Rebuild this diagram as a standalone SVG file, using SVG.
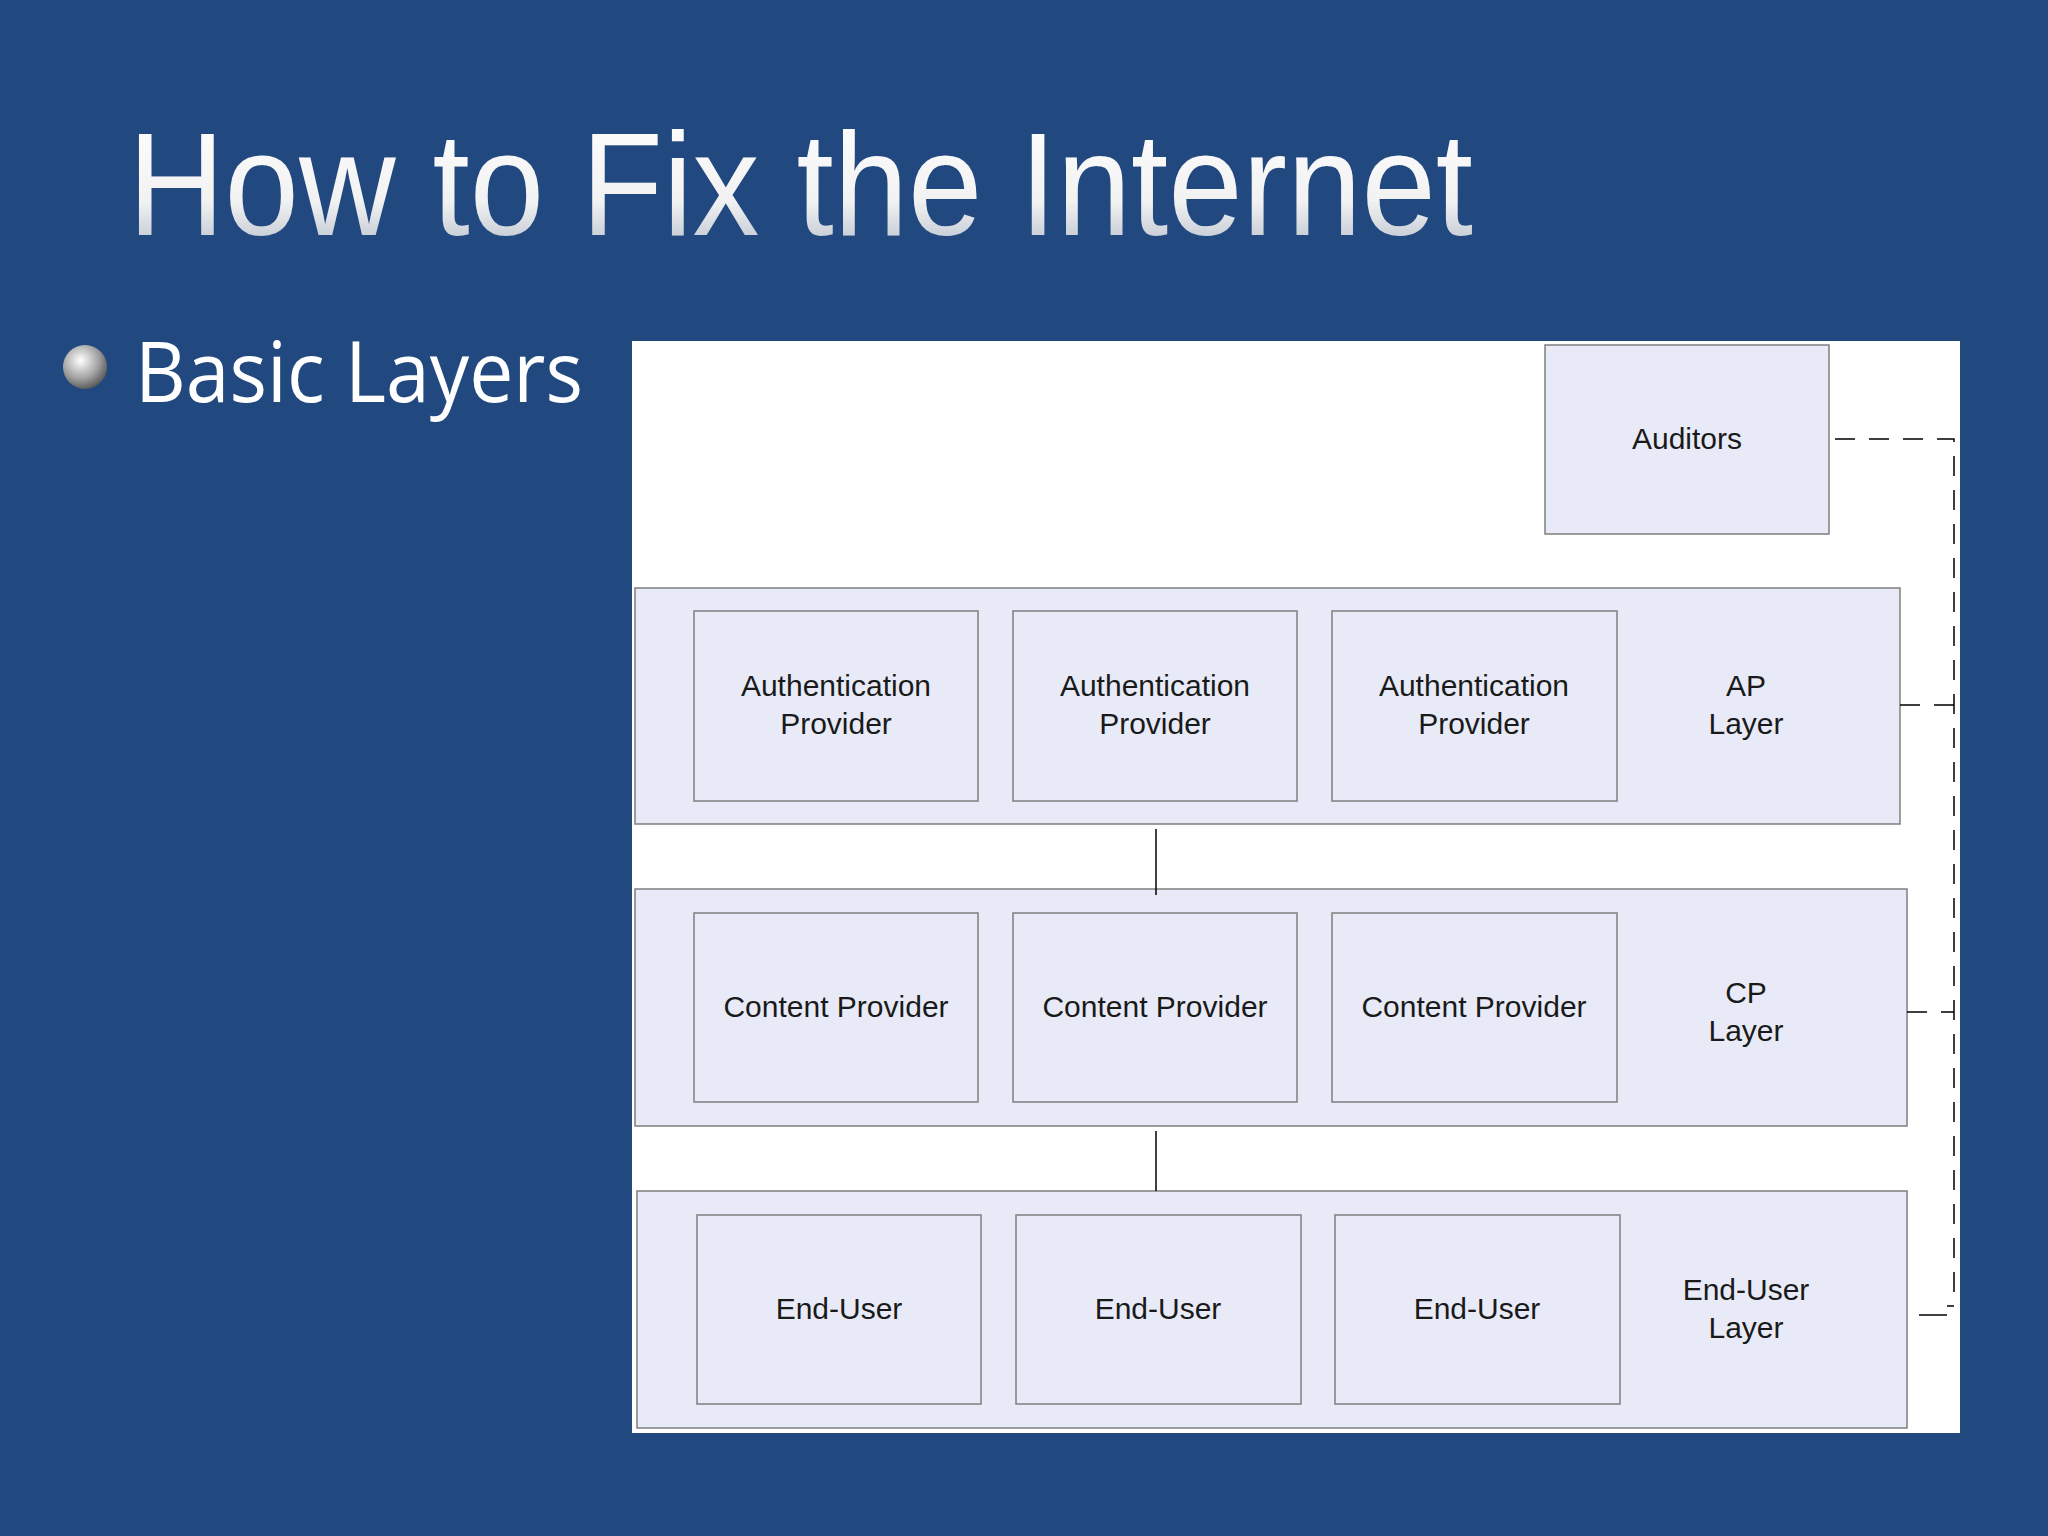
<svg xmlns="http://www.w3.org/2000/svg" width="2048" height="1536" viewBox="0 0 2048 1536">
<defs>
<linearGradient id="tg" x1="0" y1="0" x2="0" y2="1"><stop offset="0" stop-color="#ffffff"/><stop offset="0.6" stop-color="#f2f2f2"/><stop offset="1" stop-color="#a9b4c4"/></linearGradient>
<radialGradient id="bg" cx="0.4" cy="0.35" r="0.7"><stop offset="0" stop-color="#ffffff"/><stop offset="0.6" stop-color="#a0a0a0"/><stop offset="1" stop-color="#505050"/></radialGradient>
<style>
.b{fill:#e8ebf7;stroke:#7f7f7f;stroke-width:1.5}
.t{font-family:"Liberation Sans",Arial,sans-serif;font-size:30px;fill:#1a1a1a;text-anchor:middle}
.c{stroke:#000;stroke-width:1.5;fill:none}
.d{stroke:#000;stroke-width:1.5;fill:none;stroke-dasharray:20 14}
</style>
</defs>
<rect width="2048" height="1536" fill="#22497f"/>
<text x="128" y="235" font-family="'Liberation Sans',Arial,sans-serif" font-size="146" fill="url(#tg)" textLength="1345" lengthAdjust="spacingAndGlyphs">How to Fix the Internet</text>
<circle cx="85" cy="367" r="22" fill="url(#bg)"/>
<text x="135" y="402" font-family="'Open Sans','Liberation Sans',sans-serif" font-size="84" fill="#ffffff" textLength="448" lengthAdjust="spacingAndGlyphs">Basic Layers</text>
<rect x="632" y="341" width="1328" height="1092" fill="#ffffff"/>
<g id="auditors"><rect class="b" x="1545" y="345" width="284" height="189"/><text class="t" x="1687" y="449">Auditors</text></g>
<g id="ap-layer"><rect class="b" x="635" y="588" width="1265" height="236"/><text class="t" x="1746" y="696">AP</text><text class="t" x="1746" y="734">Layer</text></g>
<g id="ap1"><rect class="b" x="694" y="611" width="284" height="190"/><text class="t" x="836" y="696">Authentication</text><text class="t" x="836" y="734">Provider</text></g>
<g id="ap2"><rect class="b" x="1013" y="611" width="284" height="190"/><text class="t" x="1155" y="696">Authentication</text><text class="t" x="1155" y="734">Provider</text></g>
<g id="ap3"><rect class="b" x="1332" y="611" width="285" height="190"/><text class="t" x="1474" y="696">Authentication</text><text class="t" x="1474" y="734">Provider</text></g>
<g id="cp-layer"><rect class="b" x="635" y="889" width="1272" height="237"/><text class="t" x="1746" y="1003">CP</text><text class="t" x="1746" y="1041">Layer</text></g>
<g id="cp1"><rect class="b" x="694" y="913" width="284" height="189"/><text class="t" x="836" y="1017">Content Provider</text></g>
<g id="cp2"><rect class="b" x="1013" y="913" width="284" height="189"/><text class="t" x="1155" y="1017">Content Provider</text></g>
<g id="cp3"><rect class="b" x="1332" y="913" width="285" height="189"/><text class="t" x="1474" y="1017">Content Provider</text></g>
<g id="eu-layer"><rect class="b" x="637" y="1191" width="1270" height="237"/><text class="t" x="1746" y="1300">End-User</text><text class="t" x="1746" y="1338">Layer</text></g>
<g id="eu1"><rect class="b" x="697" y="1215" width="284" height="189"/><text class="t" x="839" y="1319">End-User</text></g>
<g id="eu2"><rect class="b" x="1016" y="1215" width="285" height="189"/><text class="t" x="1158" y="1319">End-User</text></g>
<g id="eu3"><rect class="b" x="1335" y="1215" width="285" height="189"/><text class="t" x="1477" y="1319">End-User</text></g>
<g id="connectors">
<line class="c" x1="1156" y1="829" x2="1156" y2="895"/>
<line class="c" x1="1156" y1="1131" x2="1156" y2="1191"/>
<polyline class="d" points="1835,439 1954,439 1954,1306 1947,1306"/>
<line class="d" x1="1900" y1="705" x2="1954" y2="705" stroke-dasharray="12 8"/>
<line class="d" x1="1907" y1="1012" x2="1954" y2="1012" stroke-dasharray="12 8"/>
<line class="c" x1="1919" y1="1315" x2="1947" y2="1315"/>
</g>
</svg>
